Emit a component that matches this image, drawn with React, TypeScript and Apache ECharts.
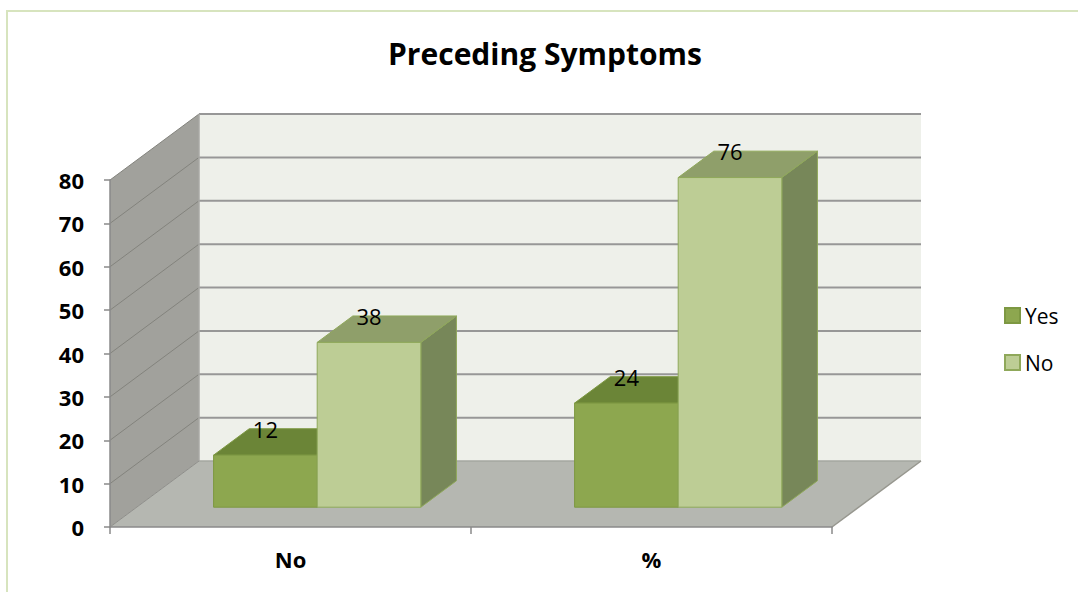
import { useEffect, useRef } from 'react';
import * as echarts from 'echarts';

// Category labels along the floor
const categories = ['No', '%'];
// Series names shown in the legend
const seriesNames = ['Yes', 'No'];
// Series values per category
const yesValues = [12, 24];
const noValues = [38, 76];
// Value axis range
const yMin = 0;
const yMax = 80;
const yStep = 10;

// Perspective offset of the back plane, in pixels
const DX = 89;
const DY = -66;
// Bar placement inside the depth, as fractions of the full depth / band
const BAR_FRONT = 0.3;
const BAR_DEPTH = 0.4;
const BAR_WIDTH = 0.287;

const FONT = '"Open Sans", "DejaVu Sans", sans-serif';

const palettes = [
  { front: '#8da74f', top: '#6b8537', side: '#5f7731', edge: '#7d9842' },
  { front: '#bdcd95', top: '#8f9f6a', side: '#778759', edge: '#8fa85a' },
];

function frameRender(params: any, api: any) {
  const cs = params.coordSys;
  const L = cs.x;
  const R = cs.x + cs.width;
  const y0 = api.coord([0, yMin])[1];
  const yTop = api.coord([0, yMax])[1];
  const children: any[] = [];

  // back wall
  children.push({
    type: 'rect',
    shape: { x: L + DX, y: yTop + DY, width: R - L, height: y0 - yTop },
    style: { fill: '#eef0ea' },
  });
  // floor
  children.push({
    type: 'polygon',
    shape: { points: [[L, y0], [R, y0], [R + DX, y0 + DY], [L + DX, y0 + DY]] },
    style: { fill: '#b5b7b1' },
  });
  // side wall
  children.push({
    type: 'polygon',
    shape: { points: [[L, y0], [L, yTop], [L + DX, yTop + DY], [L + DX, y0 + DY]] },
    style: { fill: '#a1a19c' },
  });
  // gridlines on back wall and side wall
  for (let v = yStep; v <= yMax; v += yStep) {
    const y = api.coord([0, v])[1];
    children.push({
      type: 'line',
      shape: { x1: L + DX, y1: y + DY, x2: R + DX, y2: y + DY },
      style: { stroke: '#979797', lineWidth: 2 },
    });
    children.push({
      type: 'line',
      shape: { x1: L, y1: y, x2: L + DX, y2: y + DY },
      style: { stroke: '#83837d', lineWidth: 1 },
    });
  }
  // edges where the floor and the side wall meet the back wall
  children.push({
    type: 'line',
    shape: { x1: L + DX, y1: y0 + DY, x2: R + DX, y2: y0 + DY },
    style: { stroke: '#a5a7a1', lineWidth: 1.5 },
  });
  children.push({
    type: 'line',
    shape: { x1: L + DX, y1: yTop + DY, x2: L + DX, y2: y0 + DY },
    style: { stroke: '#a8a8a4', lineWidth: 1.5 },
  });
  children.push({
    type: 'line',
    shape: { x1: L, y1: y0, x2: L + DX, y2: y0 + DY },
    style: { stroke: '#8e8e8a', lineWidth: 1 },
  });
  // right edge of floor
  children.push({
    type: 'line',
    shape: { x1: R, y1: y0, x2: R + DX, y2: y0 + DY },
    style: { stroke: '#97978f', lineWidth: 1.5 },
  });
  return { type: 'group', children };
}

function makeBarRender(idx: number) {
  const pal = palettes[idx];
  return (params: any, api: any) => {
    const cat = api.value(0);
    const val = api.value(1);
    const top = api.coord([cat, val]);
    const base = api.coord([cat, 0]);
    const band = api.size([1, 0])[0];
    const w = band * BAR_WIDTH;
    const fx = DX * BAR_FRONT;
    const fy = DY * BAR_FRONT;
    const bx = DX * BAR_DEPTH;
    const by = DY * BAR_DEPTH;
    const xl = top[0] + fx - (idx === 0 ? w : 0);
    const xr = xl + w;
    const yt = top[1] + fy;
    const yb = base[1] + fy;
    const edge = { stroke: pal.edge, lineWidth: 1, lineJoin: 'round' };
    return {
      type: 'group',
      children: [
        {
          type: 'polygon',
          shape: { points: [[xr, yt], [xr + bx, yt + by], [xr + bx, yb + by], [xr, yb]] },
          style: { fill: pal.side, ...edge },
        },
        {
          type: 'polygon',
          shape: { points: [[xl, yt], [xr, yt], [xr + bx, yt + by], [xl + bx, yt + by]] },
          style: { fill: pal.top, ...edge },
        },
        {
          type: 'rect',
          shape: { x: xl, y: yt, width: w, height: yb - yt },
          style: { fill: pal.front, ...edge },
        },
        {
          type: 'text',
          style: {
            x: xl + w / 2,
            y: yt + by,
            text: String(val),
            fill: '#000',
            fontSize: 22,
            fontFamily: FONT,
            align: 'center',
            verticalAlign: 'middle',
          },
        },
      ],
    };
  };
}

export default function App() {
  const ref = useRef<HTMLDivElement>(null);

  useEffect(() => {
    if (!ref.current) return;
    const chart = echarts.init(ref.current, undefined, { renderer: 'svg' });
    const axisColor = '#8a8a8a';
    chart.setOption({
      animation: false,
      backgroundColor: '#ffffff',
      title: {
        text: 'Preceding Symptoms',
        left: 540,
        textAlign: 'center',
        top: 33,
        textStyle: { fontFamily: FONT, fontSize: 30, fontWeight: 'bold', color: '#000' },
      },
      legend: {
        data: seriesNames,
        orient: 'vertical',
        left: 999,
        top: 300,
        itemWidth: 15,
        itemHeight: 15,
        itemGap: 26,
        icon: 'rect',
        textStyle: { fontFamily: FONT, fontSize: 21, color: '#000' },
      },
      grid: { left: 110, right: 246, top: 180, bottom: 65, containLabel: false },
      xAxis: {
        type: 'category',
        data: categories,
        z: 5,
        axisLine: { show: true, lineStyle: { color: axisColor, width: 1.5 } },
        axisTick: { show: true, length: 7, lineStyle: { color: axisColor, width: 1.5 } },
        axisLabel: { fontFamily: FONT, fontSize: 22, fontWeight: 'bold', color: '#000', margin: 21 },
        splitLine: { show: false },
      },
      yAxis: {
        type: 'value',
        min: yMin,
        max: yMax,
        interval: yStep,
        z: 5,
        axisLine: { show: true, lineStyle: { color: axisColor, width: 1.5 } },
        axisTick: { show: true, length: 6, lineStyle: { color: axisColor, width: 1.5 } },
        axisLabel: { fontFamily: FONT, fontSize: 22, fontWeight: 'bold', color: '#000', margin: 26 },
        splitLine: { show: false },
      },
      graphic: [
        {
          type: 'rect',
          shape: { x: 7, y: 11, width: 1100, height: 620 },
          style: { fill: 'none', stroke: '#d7e4be', lineWidth: 2 },
          z: 0,
        },
      ],
      series: [
        {
          name: 'frame',
          type: 'custom',
          renderItem: frameRender,
          data: [[0, 0]],
          silent: true,
          z: 1,
        },
        {
          name: seriesNames[0],
          type: 'custom',
          renderItem: makeBarRender(0),
          data: yesValues.map((v, i) => [i, v]),
          itemStyle: { color: palettes[0].front, borderColor: palettes[0].edge, borderWidth: 1 },
          z: 2,
        },
        {
          name: seriesNames[1],
          type: 'custom',
          renderItem: makeBarRender(1),
          data: noValues.map((v, i) => [i, v]),
          itemStyle: { color: palettes[1].front, borderColor: palettes[1].edge, borderWidth: 1 },
          z: 2,
        },
      ],
    });
    return () => chart.dispose();
  }, []);

  return (
    <div
      ref={ref}
      style={{ position: 'absolute', left: 0, top: 0, width: 1078, height: 592 }}
    />
  );
}
